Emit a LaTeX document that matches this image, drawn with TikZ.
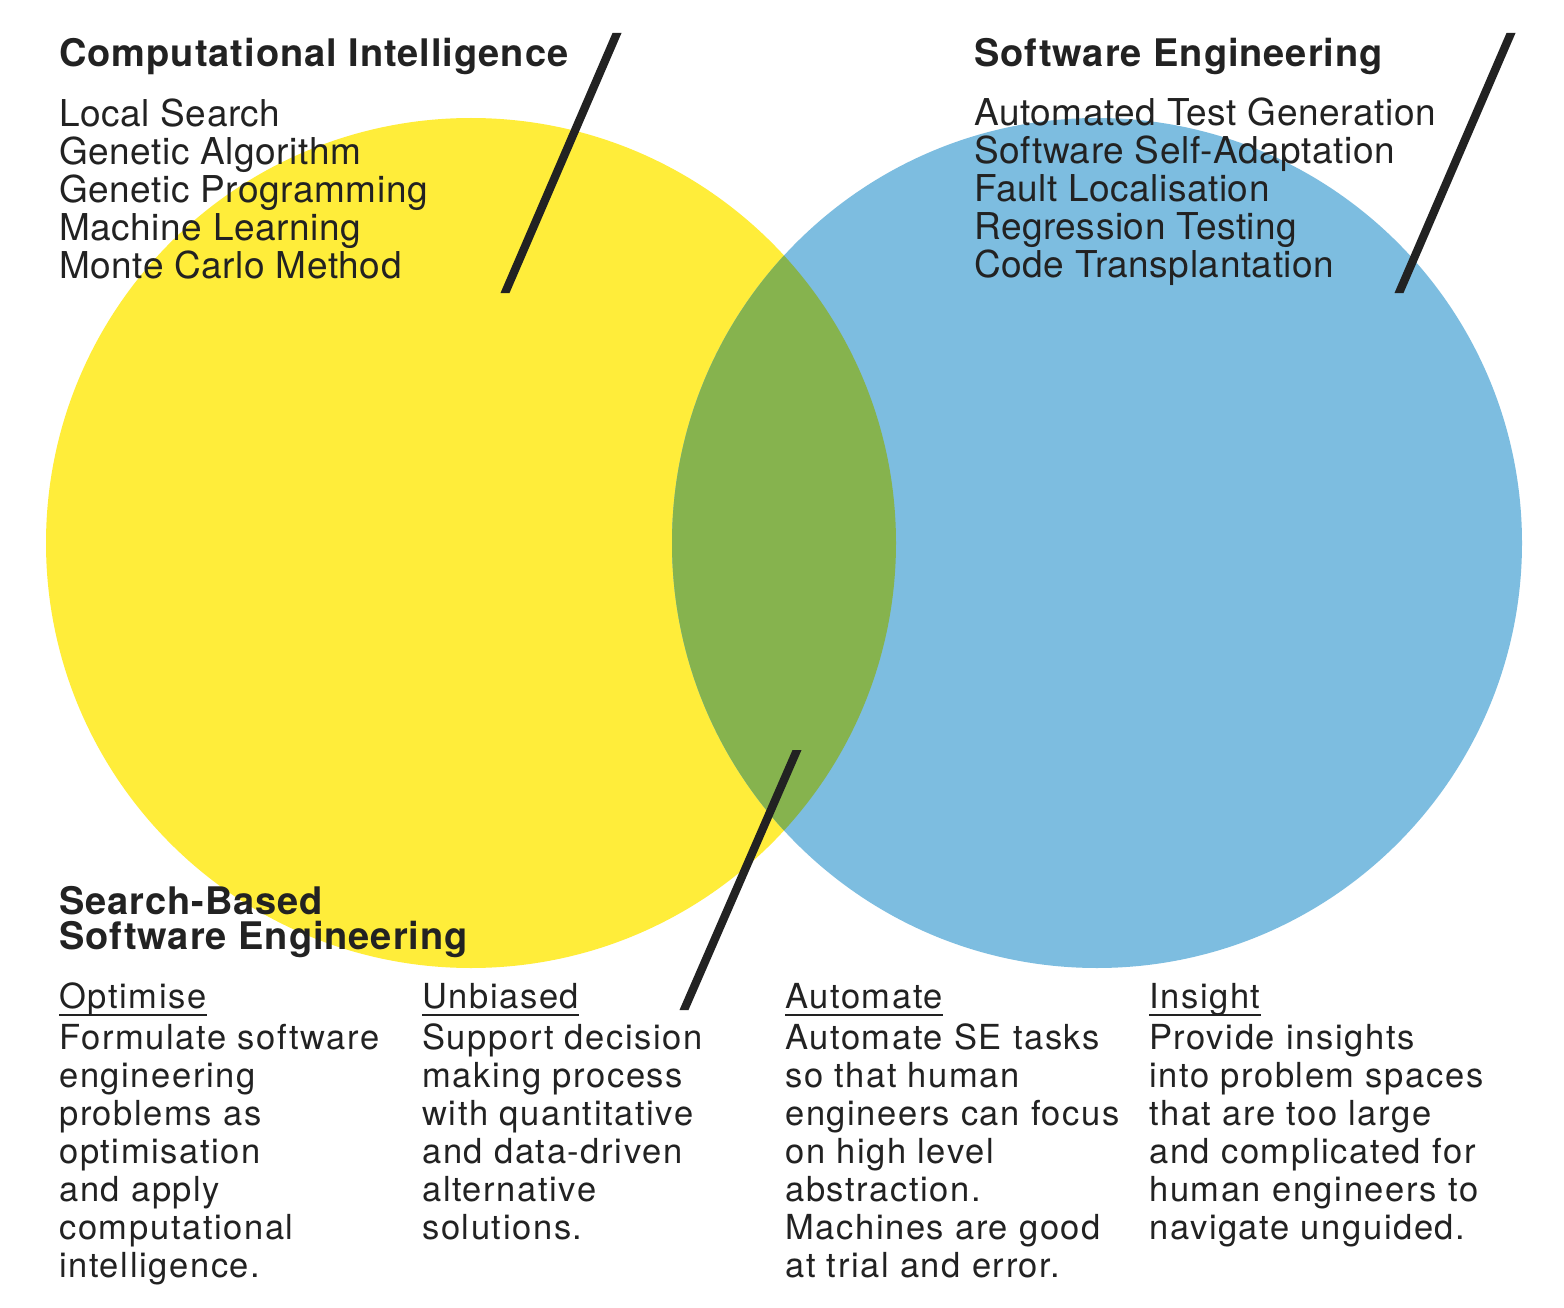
\documentclass[tikz,border=0pt]{standalone}
\usepackage{fontspec}
\setmainfont{TeX Gyre Heros}
\newfontfamily\headfont{TeX Gyre Heros}[LetterSpace=2.5]
\newfontfamily\listfont{TeX Gyre Heros}[LetterSpace=1.5]
\newfontfamily\bodyfont{TeX Gyre Heros}[LetterSpace=4.7]
\definecolor{ciyellow}{RGB}{255,237,58}
\definecolor{seblue}{RGB}{125,189,224}
\definecolor{sbsegreen}{RGB}{134,179,78}
\definecolor{ink}{RGB}{34,34,34}
\begin{document}
\begin{tikzpicture}[x=1pt,y=-1pt,
  % multi-line nodes are anchored at the baseline of their last line
  heading/.style={anchor=base west,inner sep=0pt,align=left,text=ink,
    font=\headfont\bfseries\fontsize{38}{35}\selectfont},
  item/.style={anchor=base west,inner sep=0pt,align=left,text=ink,
    font=\listfont\fontsize{37}{38}\selectfont},
  colhead/.style={anchor=base west,inner sep=0pt,text=ink,
    font=\bodyfont\fontsize{34.5}{38}\selectfont},
  colbody/.style={anchor=base west,inner sep=0pt,align=left,text=ink,
    font=\bodyfont\fontsize{34.5}{38}\selectfont},
  uline/.style={draw=ink,line width=2pt},
  bar/.style={fill=ink}]
\useasboundingbox (0,0) rectangle (1564,1308);
\fill[white] (0,0) rectangle (1564,1308);

% the two sets and their overlap
\fill[ciyellow] (471,543) circle[radius=425pt];
\fill[seblue] (1097,543) circle[radius=425pt];
\begin{scope}
  \clip (471,543) circle[radius=425pt];
  \fill[sbsegreen] (1097,543) circle[radius=425pt];
\end{scope}

% slanted bars
\coordinate (b1t) at (617,33);   \coordinate (b1b) at (505,293);
\coordinate (b2t) at (1511,33);  \coordinate (b2b) at (1399,293);
\coordinate (b3t) at (797,750);  \coordinate (b3b) at (684,1010);
\foreach \t/\b in {b1t/b1b,b2t/b2b,b3t/b3b}{
  \fill[bar] ([xshift=-4.5pt]\t) -- ([xshift=4.5pt]\t)
             -- ([xshift=4.5pt]\b) -- ([xshift=-4.5pt]\b) -- cycle;
}

% Computational Intelligence
\node[heading] (ci) at (59,67) {Computational Intelligence};
\node[item] (cilist) at (59,278) {Local Search\\Genetic Algorithm\\Genetic Programming\\Machine Learning\\Monte Carlo Method};

% Software Engineering
\node[heading] (se) at (974,67) {Software Engineering};
\node[item] (selist) at (974,277) {Automated Test Generation\\Software Self-Adaptation\\Fault Localisation\\Regression Testing\\Code Transplantation};

% Search-Based Software Engineering
\node[heading] (sbse) at (59,949) {Search-Based\\Software Engineering};

\node[colhead] (h1) at (59,1008) {Optimise};
\node[colhead] (h2) at (422,1008) {Unbiased};
\node[colhead] (h3) at (785,1008) {Automate};
\node[colhead] (h4) at (1149,1008) {Insight};
\foreach \h in {h1,h2,h3,h4}{
  \draw[uline] ([yshift=-7pt]\h.base west) -- ([yshift=-7pt]\h.base east);
}

\node[colbody] (p1) at (59,1277) {Formulate software\\engineering\\problems as\\optimisation\\and apply\\computational\\intelligence.};
\node[colbody] (p2) at (422,1239) {Support decision\\making process\\with quantitative\\and data-driven\\alternative\\solutions.};
\node[colbody] (p3) at (785,1277) {Automate SE tasks\\so that human\\engineers can focus\\on high level\\abstraction.\\Machines are good\\at trial and error.};
\node[colbody] (p4) at (1149,1239) {Provide insights\\into problem spaces\\that are too large\\and complicated for\\human engineers to\\navigate unguided.};
\end{tikzpicture}
\end{document}
